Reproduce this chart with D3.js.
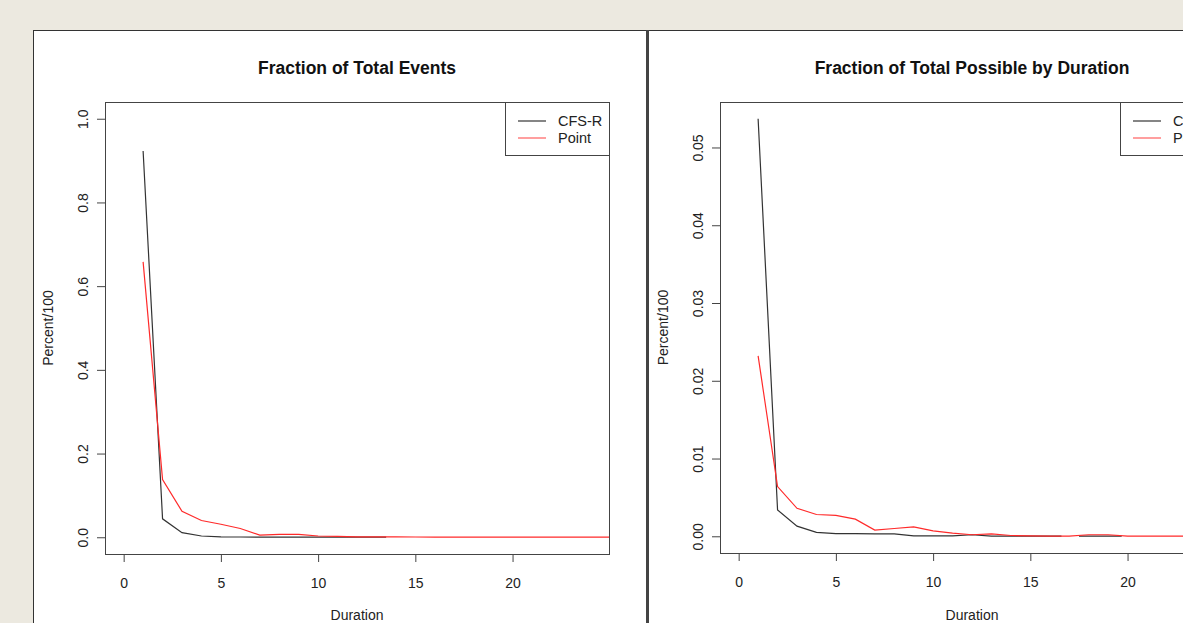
<!DOCTYPE html>
<html>
<head>
<meta charset="utf-8">
<script src="https://cdn.jsdelivr.net/npm/d3@7/dist/d3.min.js"></script>
<style>
body { margin: 0; background: #ECE9E0; }
svg { display: block; font-family: "Liberation Sans", Arial, sans-serif; }
</style>
</head>
<body>
<script>
var w = 1183;
var h = 623;

// x axis (Duration)
var xTicks = [0, 5, 10, 15, 20];
var durations = [1, 2, 3, 4, 5, 6, 7, 8, 9, 10, 11, 12, 13, 14, 15, 16, 17, 18, 19, 20, 21, 22, 23, 24, 25];
var seriesNames = ["CFS-R", "Point"];

// left panel: Fraction of Total Events
var leftYTicks = [0, 0.2, 0.4, 0.6, 0.8, 1.0];
var leftCfsDur = [1, 2, 3, 4, 5, 6, 7, 8, 9, 10, 11, 12, 13, 13.5];
var leftCfs = [0.923, 0.044, 0.011, 0.003, 0.001, 0.0006, 0.0004, 0.0003, 0.0002, 0.0001, 0.0001, 0.0001, 0.0001, 0.0001];
var leftPoint = [0.658, 0.138, 0.062, 0.040, 0.031, 0.021, 0.005, 0.007, 0.007, 0.003, 0.002, 0.001, 0.001,
  0.0008, 0.0006, 0.0005, 0.0004, 0.0003, 0.0003, 0.0002, 0.0002, 0.0001, 0.0001, 0.0001, 0.0001];

// right panel: Fraction of Total Possible by Duration
var rightYTicks = [0, 0.01, 0.02, 0.03, 0.04, 0.05];
var rightCfsDur = [1, 2, 3, 4, 5, 6, 7, 8, 9, 10, 11, 12, 13, 14, 15, 16, 16.6, 17, 17.5, 18, 19, 19.7];
var rightCfs = [0.0537, 0.0034, 0.0013, 0.0005, 0.00035, 0.00035, 0.0003, 0.0003, 0.00005, 0.00005, 0.00005, 0.0002,
  0.00003, 0.00002, 0.00002, 0.00002, 0.00002, null, 0.00002, 0.00003, 0.00003, 0.00002];
var rightPoint = [0.0232, 0.0064, 0.0036, 0.0028, 0.0027, 0.0022, 0.0008, 0.0010, 0.0012, 0.0007, 0.0004, 0.0002,
  0.0003, 0.0001, 0.00005, 0.00003, 0.00002, 0.0002, 0.0002, 0.00002, 0.00001, 0.00001, 0.00001, 0.00001, 0.00001];

var svg = d3.select("body").append("svg").attr("width", w).attr("height", h);

// the two white frames
svg.append("rect").attr("x", 33.5).attr("y", 30.5).attr("width", 613).attr("height", 640)
  .attr("fill", "#fff").attr("stroke", "#333").attr("stroke-width", 1);
svg.append("rect").attr("x", 648.5).attr("y", 30.5).attr("width", 600).attr("height", 640)
  .attr("fill", "#fff").attr("stroke", "#333").attr("stroke-width", 1);
svg.append("line").attr("x1", 647.5).attr("x2", 647.5).attr("y1", 30).attr("y2", h)
  .attr("stroke", "#444").attr("stroke-width", 3);

function pairs(xs, ys){
  var out = [];
  for (var i = 0; i < ys.length; i++){
    out.push([xs[i], ys[i]]);
  }
  return out;
}

function drawPanel(p){
  var x = d3.scaleLinear().domain([-0.96, 24.96]).range([p.left, p.right]);
  var span = p.ymax;
  var y = d3.scaleLinear().domain([-0.04 * span, 1.04 * span]).range([p.bottom, p.top]);
  var g = svg.append("g");

  g.append("clipPath").attr("id", p.id)
    .append("rect").attr("x", p.left).attr("y", p.top)
    .attr("width", p.right - p.left).attr("height", p.bottom - p.top);

  // x axis
  var xa = g.append("g").attr("transform", "translate(0," + p.bottom + ")")
    .call(d3.axisBottom(x).tickValues(xTicks).tickSize(8).tickPadding(0).tickFormat(d3.format("d")));
  xa.select(".domain").remove();
  xa.selectAll("line").attr("stroke", "#444");
  xa.selectAll("text").attr("y", 34).attr("dy", 0)
    .attr("font-size", 14).attr("fill", "#222").attr("font-family", null);

  // y axis, labels turned like R
  var ya = g.append("g").attr("transform", "translate(" + p.left + ",0)")
    .call(d3.axisLeft(y).tickValues(p.yTicks).tickSize(8).tickFormat(d3.format(p.fmt)));
  ya.select(".domain").remove();
  ya.selectAll("line").attr("stroke", "#444");
  ya.selectAll("text").attr("transform", "rotate(-90)")
    .attr("x", 0).attr("y", -17).attr("dy", 0).attr("text-anchor", "middle")
    .attr("font-size", 14).attr("fill", "#222").attr("font-family", null);

  // box
  g.append("rect").attr("x", p.left + 0.5).attr("y", p.top + 0.5)
    .attr("width", p.right - p.left).attr("height", p.bottom - p.top)
    .attr("fill", "none").attr("stroke", "#444");

  var line = d3.line()
    .defined(function(d){ return d[1] != null; })
    .x(function(d){ return x(d[0]); })
    .y(function(d){ return y(d[1]); });

  var lines = g.append("g").attr("clip-path", "url(#" + p.id + ")");
  lines.append("path").datum(pairs(p.cfsDur, p.cfs))
    .attr("d", line).attr("fill", "none").attr("stroke", "#333").attr("stroke-width", 1.2);
  lines.append("path").datum(pairs(durations, p.point))
    .attr("d", line).attr("fill", "none").attr("stroke", "#ff2a2a").attr("stroke-width", 1.2);

  // titles
  var cx = (p.left + p.right) / 2;
  g.append("text").attr("x", cx).attr("y", 74).attr("text-anchor", "middle")
    .attr("font-size", 17.5).attr("font-weight", "bold").attr("fill", "#111").text(p.title);
  g.append("text").attr("x", cx).attr("y", 620).attr("text-anchor", "middle")
    .attr("font-size", 14).attr("fill", "#222").text("Duration");
  g.append("text").attr("transform", "translate(" + (p.left - 52) + "," + ((p.top + p.bottom) / 2) + ") rotate(-90)")
    .attr("text-anchor", "middle").attr("font-size", 14).attr("fill", "#222").text("Percent/100");

  // legend
  var lx = p.right - 104;
  var lg = g.append("g");
  lg.append("rect").attr("x", lx + 0.5).attr("y", p.top + 0.5).attr("width", 104).attr("height", 53)
    .attr("fill", "#fff").attr("stroke", "#444");
  var colors = ["#333", "#ff6060"];
  seriesNames.forEach(function(name, i){
    var ly = p.top + 19 + i * 17;
    lg.append("line").attr("x1", lx + 13).attr("x2", lx + 41).attr("y1", ly).attr("y2", ly)
      .attr("stroke", colors[i]).attr("stroke-width", 1.2);
    lg.append("text").attr("x", lx + 53).attr("y", ly + 5).attr("font-size", 14.5).attr("fill", "#222").text(name);
  });
}

drawPanel({
  id: "clipL", title: "Fraction of Total Events",
  left: 105, right: 609, top: 102, bottom: 554,
  ymax: 1, yTicks: leftYTicks, fmt: ".1f",
  cfsDur: leftCfsDur, cfs: leftCfs, point: leftPoint
});

drawPanel({
  id: "clipR", title: "Fraction of Total Possible by Duration",
  left: 720, right: 1224, top: 102, bottom: 553,
  ymax: 0.0537, yTicks: rightYTicks, fmt: ".2f",
  cfsDur: rightCfsDur, cfs: rightCfs, point: rightPoint
});
</script>
</body>
</html>
